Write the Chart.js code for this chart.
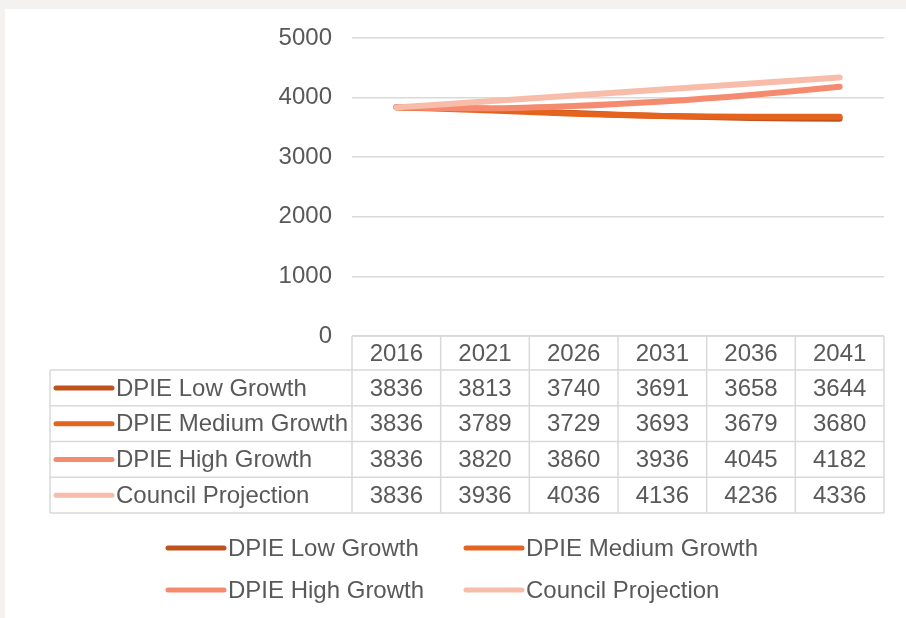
<!DOCTYPE html>
<html>
<head>
<meta charset="utf-8">
<script src="https://cdn.jsdelivr.net/npm/chart.js@4.4.1/dist/chart.umd.min.js"></script>
<style>
  html, body { margin: 0; padding: 0; background: #f3f2f1; }
  #card { position: absolute; left: 5px; top: 9px; width: 901px; height: 609px; background: #ffffff; }
</style>
</head>
<body>
<div id="card"><canvas id="chart" width="901" height="609"></canvas></div>
<script>
const years = ['2016', '2021', '2026', '2031', '2036', '2041'];
const seriesNames = ['DPIE Low Growth', 'DPIE Medium Growth', 'DPIE High Growth', 'Council Projection'];
const lowGrowth = [3836, 3813, 3740, 3691, 3658, 3644];
const mediumGrowth = [3836, 3789, 3729, 3693, 3679, 3680];
const highGrowth = [3836, 3820, 3860, 3936, 4045, 4182];
const councilProjection = [3836, 3936, 4036, 4136, 4236, 4336];
const colors = ['#c0521c', '#e4641f', '#f58b6e', '#f8bcaa'];

const allSeries = [lowGrowth, mediumGrowth, highGrowth, councilProjection];
const FONT_FAMILY = '"Liberation Sans", Arial, sans-serif';
const FONT = '24px ' + FONT_FAMILY;
const TEXT = '#595959';
const GRID = '#d9d9d9';

// data table + legend drawn under the plot
const tablePlugin = {
    id: 'tableLegend',
    afterDraw(chart) {
        const ctx = chart.ctx;
        const x = chart.scales.x;
        const area = chart.chartArea;
        const colW = (area.right - area.left) / years.length;
        const headTop = area.bottom;
        const headBottom = headTop + 34;
        const rowH = 35.75;
        const labelLeft = 45;
        const tableBottom = headBottom + rowH * seriesNames.length;

        ctx.save();
        ctx.strokeStyle = GRID;
        ctx.lineWidth = 1.5;
        ctx.beginPath();
        ctx.moveTo(area.left, headTop); ctx.lineTo(area.right, headTop);
        for (let i = 0; i <= years.length; i++) {
            const cx = area.left + i * colW;
            ctx.moveTo(cx, headTop); ctx.lineTo(cx, tableBottom);
        }
        ctx.moveTo(labelLeft, headBottom); ctx.lineTo(labelLeft, tableBottom);
        for (let r = 0; r <= seriesNames.length; r++) {
            const y = headBottom + r * rowH;
            ctx.moveTo(labelLeft, y); ctx.lineTo(area.right, y);
        }
        ctx.stroke();

        ctx.font = FONT;
        ctx.fillStyle = TEXT;
        ctx.textBaseline = 'middle';
        ctx.textAlign = 'center';
        years.forEach((yr, i) => {
            ctx.fillText(yr, x.getPixelForValue(i), (headTop + headBottom) / 2 + 1);
        });
        seriesNames.forEach((name, r) => {
            const cy = headBottom + r * rowH + rowH / 2 + 1;
            ctx.textAlign = 'center';
            ctx.fillStyle = TEXT;
            allSeries[r].forEach((v, i) => {
                ctx.fillText(String(v), x.getPixelForValue(i), cy);
            });
            ctx.strokeStyle = colors[r];
            ctx.lineWidth = 5;
            ctx.lineCap = 'round';
            ctx.beginPath();
            ctx.moveTo(51, cy - 1); ctx.lineTo(107, cy - 1);
            ctx.stroke();
            ctx.textAlign = 'left';
            ctx.fillText(name, 111, cy);
        });

        // legend
        const legendPos = [[163, 539], [461, 539], [163, 581], [461, 581]];
        seriesNames.forEach((name, r) => {
            const [lx, ly] = legendPos[r];
            ctx.strokeStyle = colors[r];
            ctx.lineWidth = 5;
            ctx.lineCap = 'round';
            ctx.beginPath();
            ctx.moveTo(lx, ly); ctx.lineTo(lx + 56, ly);
            ctx.stroke();
            ctx.fillStyle = TEXT;
            ctx.textAlign = 'left';
            ctx.fillText(name, lx + 60, ly + 1);
        });
        ctx.restore();
    }
};

new Chart(document.getElementById('chart'), {
    type: 'line',
    data: {
        labels: years,
        datasets: seriesNames.map((name, i) => ({
            label: name,
            data: allSeries[i],
            borderColor: colors[i],
            backgroundColor: colors[i],
            borderWidth: 6,
            borderCapStyle: 'round',
            pointRadius: 0,
            tension: 0.3,
            fill: false,
            order: 4 - i
        }))
    },
    options: {
        responsive: false,
        animation: false,
        layout: { padding: { top: 29, right: 22, bottom: 282, left: 0 } },
        plugins: {
            legend: { display: false },
            tooltip: { enabled: false }
        },
        scales: {
            x: {
                display: false,
                offset: true
            },
            y: {
                min: 0,
                max: 5000,
                afterFit(scale) {
                    scale.width = 347;
                    scale.paddingTop = 0;
                    scale.paddingBottom = 0;
                },
                ticks: {
                    stepSize: 1000,
                    padding: 20,
                    color: TEXT,
                    font: { family: FONT_FAMILY, size: 24 },
                    callback: (v) => String(v)
                },
                grid: { color: GRID, lineWidth: 1.5, drawTicks: false },
                border: { display: false }
            }
        }
    },
    plugins: [tablePlugin]
});
</script>
</body>
</html>
